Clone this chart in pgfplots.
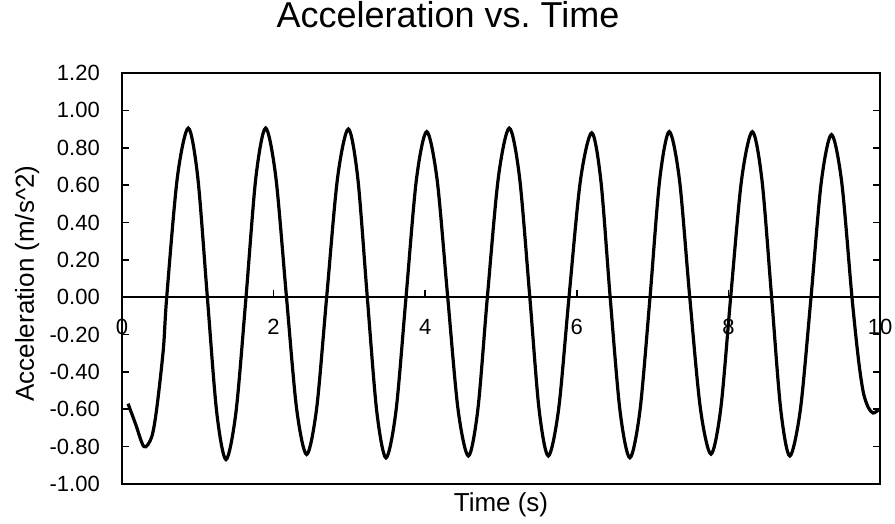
\documentclass[border=0pt]{standalone}
\usepackage{fontspec}
\setmainfont{Liberation Sans}
\usepackage{pgfplots}
\usepackage{pgfplotstable}
\pgfplotsset{compat=1.18}
\pgfplotstableread{
t a
0.08 -0.57
0.18 -0.68
0.29 -0.80
0.39 -0.75
0.457 -0.60
0.545 -0.28
0.59 0
0.73 0.64
0.875 0.905
1.00 0.64
1.126 0
1.249 -0.614
1.372 -0.869
1.504 -0.614
1.636 0
1.766 0.64
1.895 0.905
2.03 0.64
2.17 0
2.303 -0.595
2.436 -0.842
2.568 -0.595
2.70 0
2.843 0.636
2.986 0.90
3.111 0.636
3.236 0
3.36 -0.608
3.483 -0.86
3.615 -0.608
3.747 0
3.883 0.626
4.02 0.886
4.158 0.626
4.297 0
4.433 -0.60
4.57 -0.85
4.695 -0.60
4.82 0
4.965 0.64
5.11 0.905
5.245 0.64
5.38 0
5.502 -0.60
5.624 -0.85
5.76 -0.60
5.897 0
6.047 0.622
6.197 0.88
6.318 0.622
6.44 0
6.57 -0.608
6.70 -0.86
6.833 -0.608
6.966 0
7.093 0.626
7.22 0.886
7.355 0.626
7.49 0
7.63 -0.594
7.77 -0.84
7.90 -0.594
8.03 0
8.173 0.626
8.316 0.886
8.443 0.626
8.57 0
8.69 -0.60
8.81 -0.85
8.95 -0.60
9.09 0
9.225 0.615
9.36 0.87
9.495 0.615
9.63 0
9.716 -0.334
9.78 -0.51
9.845 -0.59
9.91 -0.62
9.99 -0.60
}\accdata
\begin{document}
\frenchspacing
\begin{tikzpicture}
\useasboundingbox (-122bp,-40bp) rectangle (773bp,484bp);
\begin{axis}[
  at={(0,0)}, anchor=south west,
  scale only axis, width=758bp, height=411bp,
  xmin=0, xmax=10, ymin=-1, ymax=1.2,
  xtick=\empty,
  ytick={-1,-0.8,...,1.21},
  tick align=inside,
  major tick length=7bp,
  axis line style={line width=2bp},
  every tick/.style={line width=1.6bp, black},
  yticklabel style={anchor=east, inner sep=0pt, xshift=-22bp,
    font=\fontsize{22bp}{26bp}\selectfont,
    /pgf/number format/.cd, fixed, fixed zerofill, precision=2, assume math mode=true},
  title={Acceleration vs. Time},
  title style={at={(0.5,1)}, anchor=base, yshift=40bp, xshift=-53bp, inner sep=0pt,
    font=\fontsize{36bp}{40bp}\selectfont},
  xlabel={Time (s)},
  xlabel style={at={(0.5,0)}, anchor=base, yshift=-27bp, inner sep=0pt,
    font=\fontsize{26bp}{30bp}\selectfont},
  ylabel={Acceleration (m/s\^{}2)},
  ylabel style={at={(0,0.5)}, anchor=base, yshift=88bp, xshift=-5bp, inner sep=0pt,
    font=\fontsize{26bp}{30bp}\selectfont},
]
\addplot[black, line width=3.2bp, smooth, tension=0.5] table[x=t, y=a] {\accdata};
\end{axis}
\begin{axis}[
  at={(0,0)}, anchor=south west,
  scale only axis, width=758bp, height=411bp,
  xmin=0, xmax=10, ymin=-1, ymax=1.2,
  axis x line*=middle, axis y line=none,
  xtick={0,2,...,10}, ytick=\empty,
  xtick align=inside,
  major tick length=7bp,
  axis line style={line width=2bp},
  every tick/.style={line width=1.6bp, black},
  xticklabel style={anchor=north, inner sep=0pt, yshift=-22bp,
    font=\fontsize{22bp}{26bp}\selectfont,
    /pgf/number format/assume math mode=true},
]
\end{axis}
\end{tikzpicture}
\end{document}
